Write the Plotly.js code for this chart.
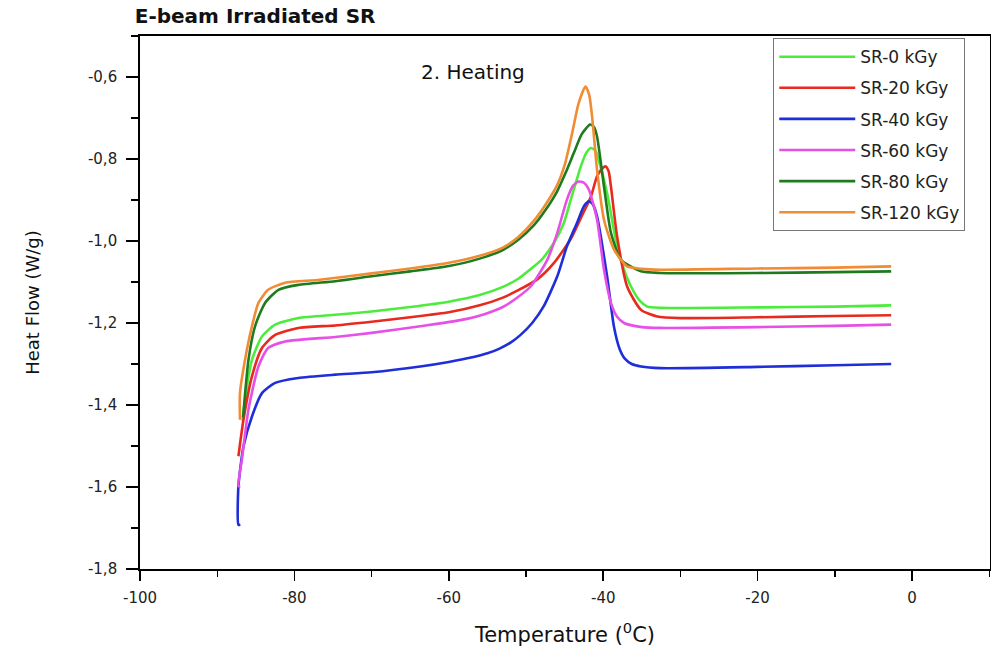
<!DOCTYPE html>
<html>
<head>
<meta charset="utf-8">
<script src="https://cdn.plot.ly/plotly-3.0.1.min.js"></script>
<style>html,body{margin:0;padding:0;background:#fff;}#chart{width:991px;height:651px;}</style>
</head>
<body>
<div id="chart"></div>
<script>
// ---- Data ----
const seriesNames = ["SR-0 kGy", "SR-20 kGy", "SR-40 kGy", "SR-60 kGy", "SR-80 kGy", "SR-120 kGy"];

const t0 = [-86.7, -86.4, -85.5, -84.2, -82.5, -79.5, -74.7, -70, -65, -60, -56, -53, -51, -49.5, -48, -46.4, -45.1, -44.2, -43.5, -42.9, -42.2, -41.6, -41.0, -40.6, -39.5, -38.2, -37.3, -36.4, -35.3, -34.3, -32.6, -20, -10, -2.7];
const h0 = [-1.44, -1.387, -1.29, -1.233, -1.204, -1.188, -1.18, -1.172, -1.161, -1.148, -1.132, -1.112, -1.092, -1.07, -1.046, -1.005, -0.956, -0.899, -0.855, -0.818, -0.785, -0.773, -0.78, -0.802, -0.883, -1.013, -1.07, -1.111, -1.145, -1.16, -1.163, -1.162, -1.160, -1.157];

const t20 = [-87.25, -86.6, -85.5, -84.2, -82.5, -79.5, -74.7, -70, -65, -60, -56, -53, -51, -48.5, -46.4, -44.2, -42.8, -41.6, -40.8, -40.2, -39.7, -39.3, -39.0, -38.2, -36.9, -35.1, -33.0, -30, -20, -10, -2.7];
const h20 = [-1.525, -1.436, -1.33, -1.261, -1.229, -1.212, -1.206, -1.197, -1.186, -1.174, -1.157, -1.138, -1.12, -1.093, -1.054, -0.995, -0.94, -0.892, -0.842, -0.825, -0.818, -0.83, -0.867, -0.989, -1.111, -1.168, -1.184, -1.188, -1.186, -1.183, -1.181];

const t40 = [-87.0, -87.25, -87.25, -86.6, -85.5, -84.2, -82.5, -79.5, -74.7, -70, -63.7, -60, -56.8, -55.0, -53.5, -52.0, -50.7, -49.2, -47.7, -45.95, -44.7, -43.4, -42.5, -41.85, -41.3, -40.8, -39.5, -38.6, -37.9, -37.2, -36.3, -35.1, -32.6, -20, -10, -2.7];
const h40 = [-1.692, -1.692, -1.598, -1.501, -1.428, -1.371, -1.346, -1.334, -1.326, -1.32, -1.306, -1.295, -1.283, -1.274, -1.263, -1.248, -1.229, -1.2, -1.159, -1.086, -1.013, -0.956, -0.915, -0.903, -0.912, -0.94, -1.086, -1.21, -1.262, -1.287, -1.300, -1.306, -1.310, -1.307, -1.303, -1.300];

const t60 = [-87.0, -87.25, -86.8, -85.95, -84.66, -83.4, -81.2, -74.7, -70, -63, -58.5, -55.5, -53, -51.2, -49.4, -47.25, -45.95, -44.7, -43.9, -43.2, -42.5, -41.85, -40.8, -39.9, -39.0, -38.2, -37.3, -35, -32.6, -20, -10, -2.7];
const h60 = [-1.598, -1.598, -1.533, -1.411, -1.306, -1.261, -1.245, -1.234, -1.224, -1.206, -1.193, -1.179, -1.161, -1.139, -1.111, -1.046, -0.98, -0.899, -0.865, -0.855, -0.858, -0.875, -0.948, -1.070, -1.151, -1.185, -1.2, -1.21, -1.212, -1.210, -1.207, -1.204];

const t80 = [-86.65, -85.95, -85.1, -83.8, -82.06, -79.5, -74.7, -70, -65, -60, -56, -53, -51, -49, -47.5, -46, -44.9, -43.8, -42.8, -41.7, -41.2, -40.8, -39.9, -39.0, -37.7, -35.1, -32.6, -20, -10, -2.7];
const h80 = [-1.43, -1.29, -1.208, -1.151, -1.119, -1.107, -1.098, -1.086, -1.074, -1.061, -1.043, -1.022, -0.997, -0.962, -0.925, -0.88, -0.835, -0.785, -0.74, -0.716, -0.722, -0.745, -0.867, -0.98, -1.046, -1.074, -1.078, -1.078, -1.076, -1.074];

const t120 = [-87.05, -87.05, -86.4, -85.5, -84.66, -83.4, -81.2, -77, -70, -65, -60, -56, -53, -51, -49, -47.5, -46, -45, -44, -43.2, -42.3, -41.8, -41.4, -40.8, -39.9, -38.6, -36.9, -35, -32.6, -20, -10, -2.7];
const h120 = [-1.436, -1.371, -1.29, -1.208, -1.151, -1.119, -1.102, -1.095, -1.079, -1.067, -1.053, -1.036, -1.016, -0.99, -0.951, -0.912, -0.865, -0.815, -0.735, -0.665, -0.623, -0.645, -0.704, -0.826, -0.948, -1.021, -1.062, -1.068, -1.070, -1.067, -1.065, -1.062];

const xTickVals = [-100, -80, -60, -40, -20, 0];
const xTickText = ["-100", "-80", "-60", "-40", "-20", "0"];
const yTickVals = [-1.8, -1.6, -1.4, -1.2, -1.0, -0.8, -0.6];
const yTickText = ["-1,8", "-1,6", "-1,4", "-1,2", "-1,0", "-0,8", "-0,6"];

// ---- Build traces ----
const xs = [t0, t20, t40, t60, t80, t120];
const ys = [h0, h20, h40, h60, h80, h120];
const colors = ["#4cec3c", "#e82a1e", "#1e2ed8", "#e650e6", "#1f7a1f", "#f08c34"];

const traces = seriesNames.map((n, i) => ({
  x: xs[i], y: ys[i], name: n, type: "scatter", mode: "lines",
  legendgroup: "g" + i,
  line: {color: colors[i], width: 2.6, shape: "spline", smoothing: 0.6}
}));

const fontFam = "DejaVu Sans, Liberation Sans, sans-serif";

const layout = {
  width: 991, height: 651,
  margin: {l: 140, r: 1, t: 36, b: 82},
  paper_bgcolor: "#fff", plot_bgcolor: "#fff",
  font: {family: fontFam, color: "#222"},
  title: {
    text: "E-beam Irradiated SR",
    font: {family: fontFam, size: 20, weight: "bold", color: "#111"},
    x: 0.136, xref: "container", xanchor: "left",
    y: 0.976, yref: "container", yanchor: "middle"
  },
  xaxis: {
    range: [-100, 10.1], showgrid: false, zeroline: false,
    showline: true, linecolor: "#000", linewidth: 1.8, mirror: true,
    ticks: "outside", ticklen: 10, tickwidth: 1.6, tickcolor: "#000",
    tickvals: xTickVals, ticktext: xTickText, ticklabelstandoff: 4,
    tickfont: {size: 15, color: "#222"},
    minor: {dtick: 10, tick0: 0, ticks: "outside", ticklen: 6, tickwidth: 1.4, tickcolor: "#000", showgrid: false},
    title: {text: "Temperature (<sup>0</sup>C)", font: {size: 21, color: "#111"}, standoff: 21}
  },
  yaxis: {
    range: [-1.8, -0.5], showgrid: false, zeroline: false,
    showline: true, linecolor: "#000", linewidth: 1.8, mirror: true,
    ticks: "outside", ticklen: 12, tickwidth: 1.6, tickcolor: "#000",
    tickvals: yTickVals, ticktext: yTickText, ticklabelstandoff: 6,
    tickfont: {size: 15, color: "#222"},
    minor: {dtick: 0.1, tick0: 0, ticks: "outside", ticklen: 7, tickwidth: 1.4, tickcolor: "#000", showgrid: false},
    title: {text: "Heat Flow (W/g)", font: {size: 18, color: "#111"}, standoff: 44}
  },
  legend: {
    x: 0.745, y: 0.996, xanchor: "left", yanchor: "top",
    bgcolor: "#fff", bordercolor: "#777", borderwidth: 1,
    font: {size: 17, color: "#222"},
    traceorder: "grouped", tracegroupgap: 6,
    itemwidth: 76
  },
  annotations: [{
    text: "2. Heating", xref: "paper", yref: "paper", x: 0.392, y: 0.958,
    showarrow: false, font: {size: 20, color: "#111"}
  }],
  showlegend: true
};

Plotly.newPlot("chart", traces, layout, {displayModeBar: false, staticPlot: true});
</script>
</body>
</html>
